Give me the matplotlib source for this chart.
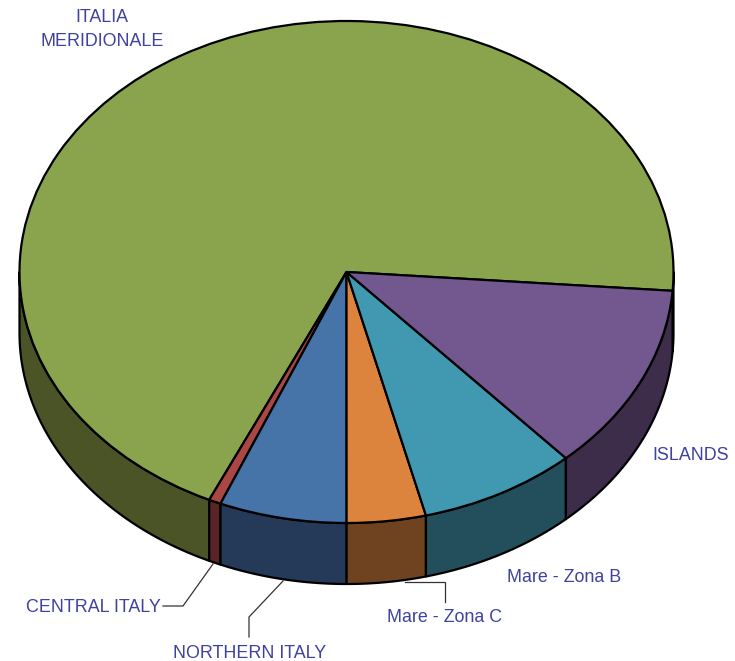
import numpy as np
import matplotlib
matplotlib.use("Agg")
import matplotlib.pyplot as plt
from matplotlib.patches import Polygon

# slices, counter-clockwise starting from the green one
labels = ["ITALIA\nMERIDIONALE", "CENTRAL ITALY", "NORTHERN ITALY", "Mare - Zona C", "Mare - Zona B", "ISLANDS"]
values = [69.3, 0.6, 6.3, 3.9, 7.8, 12.1]
top_colors = ["#8AA44E", "#AA4644", "#4674A8", "#DC843E", "#4198B1", "#73588F"]
side_colors = ["#4A5427", "#5A2426", "#243A58", "#6F4320", "#234F5C", "#3D2C4A"]
start_angle = -4.3

# geometry of the tilted pie in pixels
W, H = 735, 661
cx, cy, rx, ry, depth = 346.5, 272, 327, 251, 61

fig = plt.figure(figsize=(W / 100, H / 100), dpi=100)
ax = fig.add_axes([0, 0, 1, 1])

# top face: unit pie squashed by the axes limits
ax.pie(values, colors=top_colors, startangle=start_angle, counterclock=True, radius=1,
       wedgeprops={"edgecolor": "black", "linewidth": 1.6, "zorder": 3})
ax.set_aspect("auto")
ax.set_xlim(-cx / rx, (W - cx) / rx)
ax.set_ylim((cy - H) / ry, cy / ry)
ax.axis("off")

# side wall, only the front half (180-360 deg) can be seen
d = depth / ry
edges = start_angle + np.cumsum([0] + values) * 3.6
for a0, a1, col in zip(edges[:-1], edges[1:], side_colors):
    for lo, hi in ((a0, a1), (a0 + 360, a1 + 360), (a0 - 360, a1 - 360)):
        lo, hi = max(lo, 180), min(hi, 360)
        if hi <= lo:
            continue
        t = np.radians(np.linspace(lo, hi, 120))
        x, y = np.cos(t), np.sin(t)
        pts = np.r_[np.c_[x, y], np.c_[x, y - d][::-1]]
        ax.add_patch(Polygon(pts, closed=True, facecolor=col, edgecolor="black", linewidth=1.6,
                             joinstyle="round", zorder=2))

# labels and leader lines in pixel coordinates
ov = fig.add_axes([0, 0, 1, 1], facecolor="none")
ov.set_xlim(0, W)
ov.set_ylim(H, 0)
ov.axis("off")

label_pos = [(102, 29.5), (93, 607), (250, 653), (444.5, 618), (564, 577.5), (690.5, 455)]
font = {"family": "Liberation Sans", "fontsize": 12.9, "color": "#3F429F", "ha": "center", "va": "center",
        "linespacing": 1.48}
for txt, (tx, ty) in zip(labels, label_pos):
    ov.text(tx, ty, txt, **font)

leader_x = [[163, 183, 213], [249, 249, 283], [405, 445, 445]]
leader_y = [[606, 606, 564], [637, 617, 581], [582, 582, 602]]
for lx, ly in zip(leader_x, leader_y):
    ov.plot(lx, ly, color="#333333", lw=0.9, solid_joinstyle="miter", zorder=1)

fig.savefig("out.png", dpi=100)
